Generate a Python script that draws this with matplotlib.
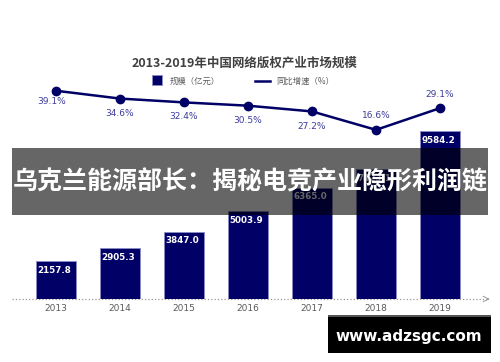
import numpy as np
import matplotlib.pyplot as plt
from matplotlib.patches import Rectangle

plt.rcParams['font.family'] = ['Noto Sans CJK SC', 'DejaVu Sans']

# data (2017/2018 bar labels are hidden by the banner)
years = ['2013', '2014', '2015', '2016', '2017', '2018', '2019']
market_size = [2157.8, 2905.3, 3847.0, 5003.9, 6365.0, 7423.1, 9584.2]
growth = [39.1, 34.6, 32.4, 30.5, 27.2, 16.6, 29.1]
growth_above = [False, False, False, False, False, True, True]

navy = '#000066'
label_blue = '#3c3c9c'

fig = plt.figure(figsize=(5, 3.62), dpi=100)
ax = fig.add_axes([0, 63 / 362, 1, 299 / 362])
x = np.arange(len(years))
bars = ax.bar(x, market_size, width=0.61, color=navy, edgecolor='#8c8cc8',
              linewidth=0.6, zorder=2, label='规模（亿元）')
ax.set_xlim(-0.875, 6.9375)
ax.set_ylim(0, 17086)
ax.axis('off')

for xi, v in zip(x, market_size):
    ax.text(xi - 0.03, v - 260, f'{v:.1f}', color='white', fontsize=6.3,
            fontweight='bold', ha='center', va='top', family='DejaVu Sans', zorder=3)
    ax.text(xi, -270, years[xi], color='#595959', fontsize=6.5, ha='center',
            va='top', family='DejaVu Sans')

# dotted base axis with arrow
ax.plot([-0.69, 6.75], [0, 0], ls=':', color='#999999', lw=0.9, zorder=1,
        clip_on=False)
ax.annotate('', xy=(6.82, 0), xytext=(6.7, 0),
            arrowprops=dict(arrowstyle='->', color='#999999', lw=0.7))

ax2 = ax.twinx()
ax2.set_position(ax.get_position())
line, = ax2.plot(x, growth, color=navy, lw=1.8, marker='o', markersize=6,
                 zorder=4, label='同比增速（%）')
ax2.set_ylim(-80.7, 91.3)
ax2.axis('off')
for xi, v, up in zip(x, growth, growth_above):
    if up:
        off = (0, 10)
    elif xi == 0:
        off = (-3, -7.5)
    else:
        off = (0, -10.5)
    ax2.annotate(f'{v}%', (xi, v), xytext=off, textcoords='offset points',
                 color=label_blue, fontsize=6.5, ha='center', va='center',
                 family='DejaVu Sans')

fig.text(0.49, 1 - 63 / 362, '2013-2019年中国网络版权产业市场规模', fontsize=9,
         fontweight='bold', color='#404040', ha='center', va='center')
fig.legend(handles=[bars, line], loc='center', ncol=2,
           bbox_to_anchor=(0.482, 1 - 81 / 362), frameon=False, fontsize=6,
           handlelength=1.8, columnspacing=4.2, handletextpad=0.8,
           labelcolor='#595959')
leg = fig.legends[0]
leg.legend_handles[0].set_width(7)
leg.legend_handles[0].set_height(7)
leg.legend_handles[0].set_x(3)
leg.legend_handles[0].set_y(-1)
leg.legend_handles[1].set_marker('')

# overlay banner
fig.patches.append(Rectangle((12 / 500, 1 - 215 / 362), 476 / 500, 67 / 362,
                             transform=fig.transFigure, facecolor='black',
                             alpha=0.6, edgecolor='none', zorder=10))
fig.text(0.5, 1 - 182 / 362, '乌克兰能源部长：揭秘电竞产业隐形利润链', fontsize=18,
         fontweight='bold', color='white', ha='center', va='center', zorder=11)

# watermark box
fig.patches.append(Rectangle((328 / 500, 9 / 362), 163 / 500, 38 / 362,
                             transform=fig.transFigure, facecolor='black',
                             edgecolor='none', zorder=10))
fig.patches.append(Rectangle((328 / 500, 45 / 362), 163 / 500, 2 / 362,
                             transform=fig.transFigure, facecolor='#555555',
                             edgecolor='none', zorder=10))
fig.text(409 / 500, 1 - 336 / 362, 'www.adzsgc.com', fontsize=11,
         fontweight='bold', color='white', ha='center', va='center',
         family='DejaVu Sans', zorder=11)

fig.savefig('out.png', dpi=100)
